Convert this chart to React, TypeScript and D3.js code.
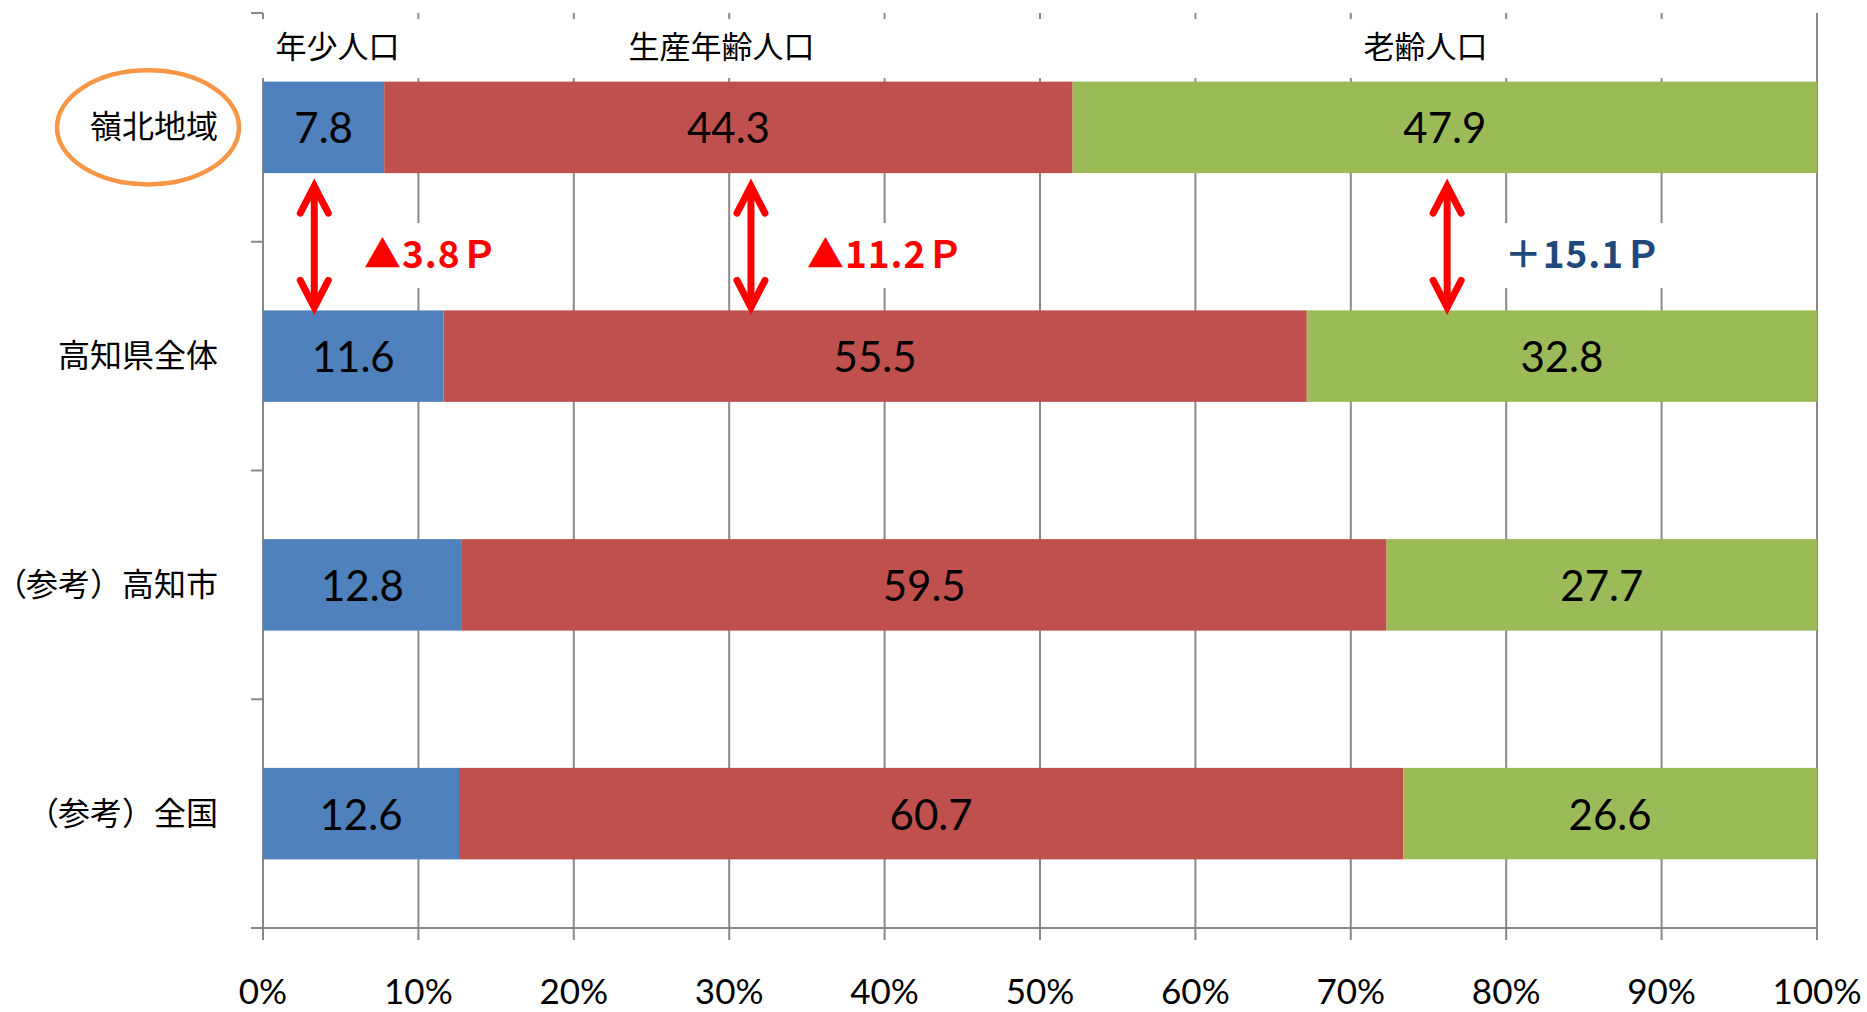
import * as d3 from 'd3'
import { useEffect, useRef } from 'react'

const categories = ['嶺北地域', '高知県全体', '（参考）高知市', '（参考）全国']
const youth = [7.8, 11.6, 12.8, 12.6]
const working = [44.3, 55.5, 59.5, 60.7]
const elderly = [47.9, 32.8, 27.7, 26.6]
const seriesKeys = ['youth', 'working', 'elderly']
const seriesNames = ['年少人口', '生産年齢人口', '老齢人口']
const seriesColors = ['#4F81BD', '#C0504D', '#9BBB59']
const xTicks = [0, 0.1, 0.2, 0.3, 0.4, 0.5, 0.6, 0.7, 0.8, 0.9, 1]

// header label centres (share of axis)
const headerAt = [0.048, 0.295, 0.748]

// gap annotations between the first two rows
const diffLabels = ['▲3.8Ｐ', '▲11.2Ｐ', '＋15.1Ｐ']
const diffColors = ['#FF0000', '#FF0000', '#1F497D']
const arrowAt = [0.033, 0.314, 0.762]
const diffTextAt = [0.065, 0.35, 0.799]

const W = 1867
const H = 1012
const JP = '"Noto Sans CJK JP", "Noto Sans", sans-serif'
const NUM = 'Lato, "Open Sans", sans-serif'
const GRID = '#898989'

export default function App() {
  const ref = useRef<SVGSVGElement | null>(null)

  useEffect(() => {
    const svgEl = ref.current
    if (!svgEl) return
    const svg = d3.select(svgEl)
    svg.selectAll('*').remove()

    const left = 263
    const right = 1817
    const top = 13
    const bottom = 928

    const x = d3.scaleLinear().domain([0, 1]).range([left, right])
    const y = d3.scaleBand<string>().domain(categories).range([top, bottom]).paddingInner(0.6).paddingOuter(0.3)
    const step = y.step()
    const bw = y.bandwidth()

    const rows = categories.map((c, i) => ({ cat: c, youth: youth[i], working: working[i], elderly: elderly[i] }))
    const stacked = d3.stack<any>().keys(seriesKeys).offset(d3.stackOffsetExpand)(rows)

    // gridlines
    const gGrid = svg.append('g')
    for (const t of xTicks) {
      gGrid
        .append('line')
        .attr('x1', x(t))
        .attr('x2', x(t))
        .attr('y1', top)
        .attr('y2', bottom + 12)
        .attr('stroke', GRID)
        .attr('stroke-width', 2)
    }
    // horizontal axis line + left category ticks
    gGrid.append('line').attr('x1', left - 12).attr('x2', right).attr('y1', bottom).attr('y2', bottom).attr('stroke', GRID).attr('stroke-width', 2)
    for (let i = 0; i < categories.length; i++) {
      const yy = top + i * step
      gGrid.append('line').attr('x1', left - 12).attr('x2', left).attr('y1', yy).attr('y2', yy).attr('stroke', GRID).attr('stroke-width', 2)
    }

    // x tick labels
    const fmt = d3.format('.0%')
    svg
      .append('g')
      .selectAll('text')
      .data(xTicks)
      .join('text')
      .attr('x', (d) => x(d))
      .attr('y', 1004)
      .attr('text-anchor', 'middle')
      .attr('font-family', NUM)
      .attr('font-size', 35)
      .attr('fill', '#000')
      .text((d) => fmt(d))

    // bars
    const gBars = svg.append('g')
    stacked.forEach((layer, si) => {
      gBars
        .append('g')
        .attr('fill', seriesColors[si])
        .selectAll('rect')
        .data(layer)
        .join('rect')
        .attr('x', (d) => x(d[0]))
        .attr('width', (d) => x(d[1]) - x(d[0]))
        .attr('y', (d) => y(d.data.cat)!)
        .attr('height', bw)
      gBars
        .append('g')
        .selectAll('text')
        .data(layer)
        .join('text')
        .attr('x', (d) => (x(d[0]) + x(d[1])) / 2)
        .attr('y', (d) => y(d.data.cat)! + bw / 2 + 16)
        .attr('text-anchor', 'middle')
        .attr('font-family', NUM)
        .attr('font-size', 42)
        .attr('fill', '#000')
        .text((d) => d3.format('.1f')(d.data[seriesKeys[si]]))
    })

    // category labels (opening bracket set proportional, as in the original)
    const catText = svg
      .append('g')
      .selectAll('text')
      .data(categories)
      .join('text')
      .attr('x', 218)
      .attr('y', (d) => y(d)! + bw / 2 + 11)
      .attr('text-anchor', 'end')
      .attr('font-family', JP)
      .attr('font-size', 32)
      .attr('fill', '#000')
    catText.each(function (d) {
      const t = d3.select(this)
      if (d.startsWith('（')) {
        t.append('tspan').style('font-feature-settings', '"palt"').text('（')
        t.append('tspan').text(d.slice(1))
      } else {
        t.text(d)
      }
    })

    // header band over the top of the grid
    svg.append('rect').attr('x', left - 8).attr('y', 19).attr('width', 1805 - left + 8).attr('height', 59).attr('fill', '#fff')
    svg
      .append('g')
      .selectAll('text')
      .data(seriesNames)
      .join('text')
      .attr('x', (_, i) => x(headerAt[i]))
      .attr('y', 58)
      .attr('text-anchor', 'middle')
      .attr('font-family', JP)
      .attr('font-size', 31)
      .attr('fill', '#000')
      .text((d) => d)

    // difference annotations
    const y0 = categories[0]
    const y1 = categories[1]
    const aTop = y(y0)! + bw + 10
    const aBot = y(y1)!
    const gAnn = svg.append('g')
    diffLabels.forEach((lab, i) => {
      const g = gAnn.append('g')
      const box = g.append('rect').attr('fill', '#fff')
      const t = g
        .append('text')
        .attr('x', x(diffTextAt[i]))
        .attr('y', 268)
        .attr('font-family', JP)
        .attr('font-weight', 700)
        .attr('font-size', 37)
        .attr('letter-spacing', 1)
        .attr('fill', diffColors[i])
        .text(lab)
      const bb = (t.node() as SVGTextElement).getBBox()
      box.attr('x', bb.x - 14).attr('y', 223).attr('width', bb.width + 28).attr('height', 65)

      const ax = x(arrowAt[i])
      const hw = 14
      const hl = 30
      const a = gAnn
        .append('g')
        .attr('stroke', '#FF0000')
        .attr('stroke-width', 7)
        .attr('fill', 'none')
        .attr('stroke-linecap', 'round')
        .attr('stroke-linejoin', 'miter')
      a.append('line').attr('x1', ax).attr('x2', ax).attr('y1', aTop + 4).attr('y2', aBot - 4)
      a.append('path').attr('d', `M${ax - hw},${aTop + hl} L${ax},${aTop + 3} L${ax + hw},${aTop + hl}`)
      a.append('path').attr('d', `M${ax - hw},${aBot - hl} L${ax},${aBot - 3} L${ax + hw},${aBot - hl}`)
    })

    // highlight ring round the first category
    svg
      .append('ellipse')
      .attr('cx', 148)
      .attr('cy', y(y0)! + bw / 2)
      .attr('rx', 91)
      .attr('ry', 57)
      .attr('fill', 'none')
      .attr('stroke', '#F79646')
      .attr('stroke-width', 4.5)
  }, [])

  return (
    <svg
      ref={ref}
      width={W}
      height={H}
      style={{ position: 'absolute', left: 0, top: 0, display: 'block', background: '#fff' }}
    />
  )
}
